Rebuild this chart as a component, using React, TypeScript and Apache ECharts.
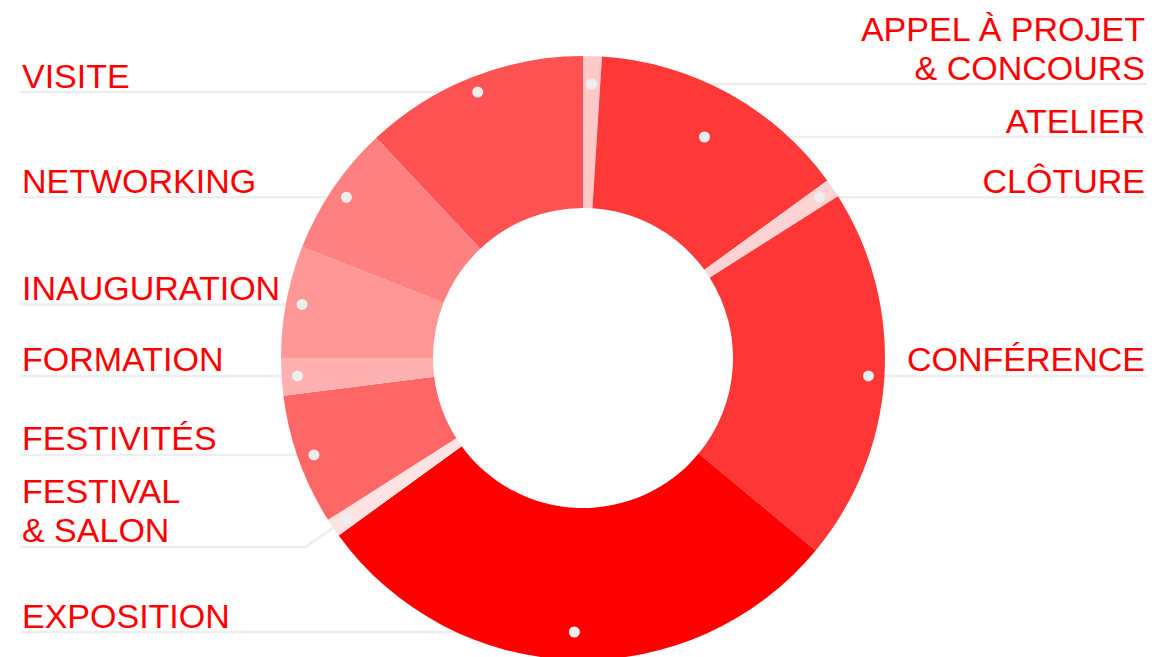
import React, { useEffect, useRef } from "react";
import * as echarts from "echarts";

// ---- data ----
const categories = [
  "Appel à projet & concours",
  "Atelier",
  "Clôture",
  "Conférence",
  "Exposition",
  "Festival & salon",
  "Festivités",
  "Formation",
  "Inauguration",
  "Networking",
  "Visite",
];
const labelTexts = [
  "APPEL À PROJET\n& CONCOURS",
  "ATELIER",
  "CLÔTURE",
  "CONFÉRENCE",
  "EXPOSITION",
  "FESTIVAL\n& SALON",
  "FESTIVITÉS",
  "FORMATION",
  "INAUGURATION",
  "NETWORKING",
  "VISITE",
];
const values = [1, 14, 1, 20, 29, 1, 7, 2, 6, 7, 12];

// ---- styles ----
const sliceColors = [
  "#ffc9c9",
  "#ff3838",
  "#ffd3d3",
  "#ff3636",
  "#ff0000",
  "#ffe3e3",
  "#ff6666",
  "#ffb0b0",
  "#ff9797",
  "#ff8080",
  "#ff5252",
];

const W = 1154;
const H = 657;
const CX = 583;
const CY = 358;
const R_IN = 150;
const R_OUT = 302;
const R_DOT = 286;
const LEFT_X = 22;
const RIGHT_X = 1145;
const LINE_LEFT = 20;
const LINE_RIGHT = 1147;
const TOP_CAP = 18;
const BOTTOM_LINE = 632;
const GAP = 26;
const CAP1 = 27;
const LINE_H = 39;

function capHeight(lines: number) {
  return CAP1 + (lines - 1) * LINE_H;
}

type Item = {
  i: number;
  dx: number;
  dy: number;
  left: boolean;
  lines: number;
  desired: number;
  lineY: number;
  dotX: number;
  dotY: number;
  elbowX: number;
};

function computeLayout(): Item[] {
  const total = values.reduce((a, b) => a + b, 0);
  let acc = 0;
  const items: Item[] = values.map((v, i) => {
    const mid = ((acc + v / 2) / total) * Math.PI * 2;
    acc += v;
    const dx = Math.sin(mid);
    const dy = -Math.cos(mid);
    return {
      i,
      dx,
      dy,
      left: dx < 0,
      lines: labelTexts[i].split("\n").length,
      desired: CY + R_DOT * dy,
      lineY: 0,
      dotX: 0,
      dotY: 0,
      elbowX: 0,
    };
  });
  [true, false].forEach((side) => {
    const s = items.filter((it) => it.left === side).sort((a, b) => a.desired - b.desired);
    let prev: number | null = null;
    s.forEach((it) => {
      let y = Math.max(it.desired, TOP_CAP + capHeight(it.lines));
      if (prev !== null) y = Math.max(y, prev + GAP + capHeight(it.lines));
      it.lineY = y;
      prev = y;
    });
    for (let k = s.length - 1; k >= 0; k--) {
      let y = Math.min(s[k].lineY, BOTTOM_LINE);
      if (k < s.length - 1) y = Math.min(y, s[k + 1].lineY - GAP - capHeight(s[k + 1].lines));
      s[k].lineY = y;
    }
    s.forEach((it) => {
      const r = Math.abs(it.dy) > 0.05 ? (it.lineY - CY) / it.dy : R_DOT;
      if (r >= R_IN + 40 && r <= R_OUT - 10) {
        it.dotX = CX + r * it.dx;
        it.dotY = it.lineY;
        it.elbowX = it.dotX;
      } else {
        it.dotX = CX + R_DOT * it.dx;
        it.dotY = CY + R_DOT * it.dy;
        it.elbowX = it.dotX + (side ? -1 : 1) * Math.abs(it.lineY - it.dotY) * 1.45;
      }
    });
  });
  return items;
}

export default function App() {
  const ref = useRef<HTMLDivElement>(null);
  useEffect(() => {
    document.body.style.margin = "0";
    if (!ref.current) return;
    const chart = echarts.init(ref.current, null, { renderer: "svg" });
    const layout = computeLayout();
    const data = categories.map((name, i) => ({
      name,
      value: values[i],
      itemStyle: { color: sliceColors[i] },
    }));
    chart.setOption({
      animation: false,
      tooltip: { show: false },
      series: [
        {
          type: "pie",
          center: [CX, CY],
          radius: [R_IN, R_OUT],
          startAngle: 90,
          clockwise: true,
          avoidLabelOverlap: false,
          silent: true,
          emphasis: { disabled: true },
          itemStyle: { borderWidth: 0 },
          data,
          label: {
            show: true,
            position: "outside",
            formatter: (p: any) => labelTexts[p.dataIndex],
            color: "#ff0000",
            fontFamily: "Liberation Sans",
            fontSize: 34,
            lineHeight: LINE_H,
          },
          labelLine: {
            show: true,
            smooth: false,
            lineStyle: { color: "#eeeeee", width: 2.5 },
          },
          labelLayout: (params: any) => {
            const it = layout[params.dataIndex];
            return {
              x: it.left ? LEFT_X : RIGHT_X,
              y: it.lineY + 3,
              align: it.left ? "left" : "right",
              verticalAlign: "bottom",
              labelLinePoints: [
                [it.dotX, it.dotY],
                [it.elbowX, it.lineY],
                [it.left ? LINE_LEFT : LINE_RIGHT, it.lineY],
              ],
            };
          },
        },
        {
          type: "pie",
          z: 5,
          center: [CX, CY],
          radius: [R_IN, R_OUT],
          startAngle: 90,
          clockwise: true,
          avoidLabelOverlap: false,
          silent: true,
          emphasis: { disabled: true },
          itemStyle: { color: "rgba(0,0,0,0)", borderWidth: 0 },
          data: categories.map((name, i) => ({ name, value: values[i] })),
          label: {
            show: true,
            position: "inside",
            formatter: "{d| }",
            rich: {
              d: {
                width: 11,
                height: 11,
                borderRadius: 5.5,
                backgroundColor: "#eeeeee",
              },
            },
          },
          labelLine: { show: false },
          labelLayout: (params: any) => {
            const it = layout[params.dataIndex];
            return { x: it.dotX, y: it.dotY, align: "center", verticalAlign: "middle" };
          },
        },
      ],
    });
    return () => chart.dispose();
  }, []);
  return (
    <div style={{ position: "fixed", left: 0, top: 0, width: W, height: H, background: "#ffffff" }}>
      <div ref={ref} style={{ width: W, height: H }} />
    </div>
  );
}
